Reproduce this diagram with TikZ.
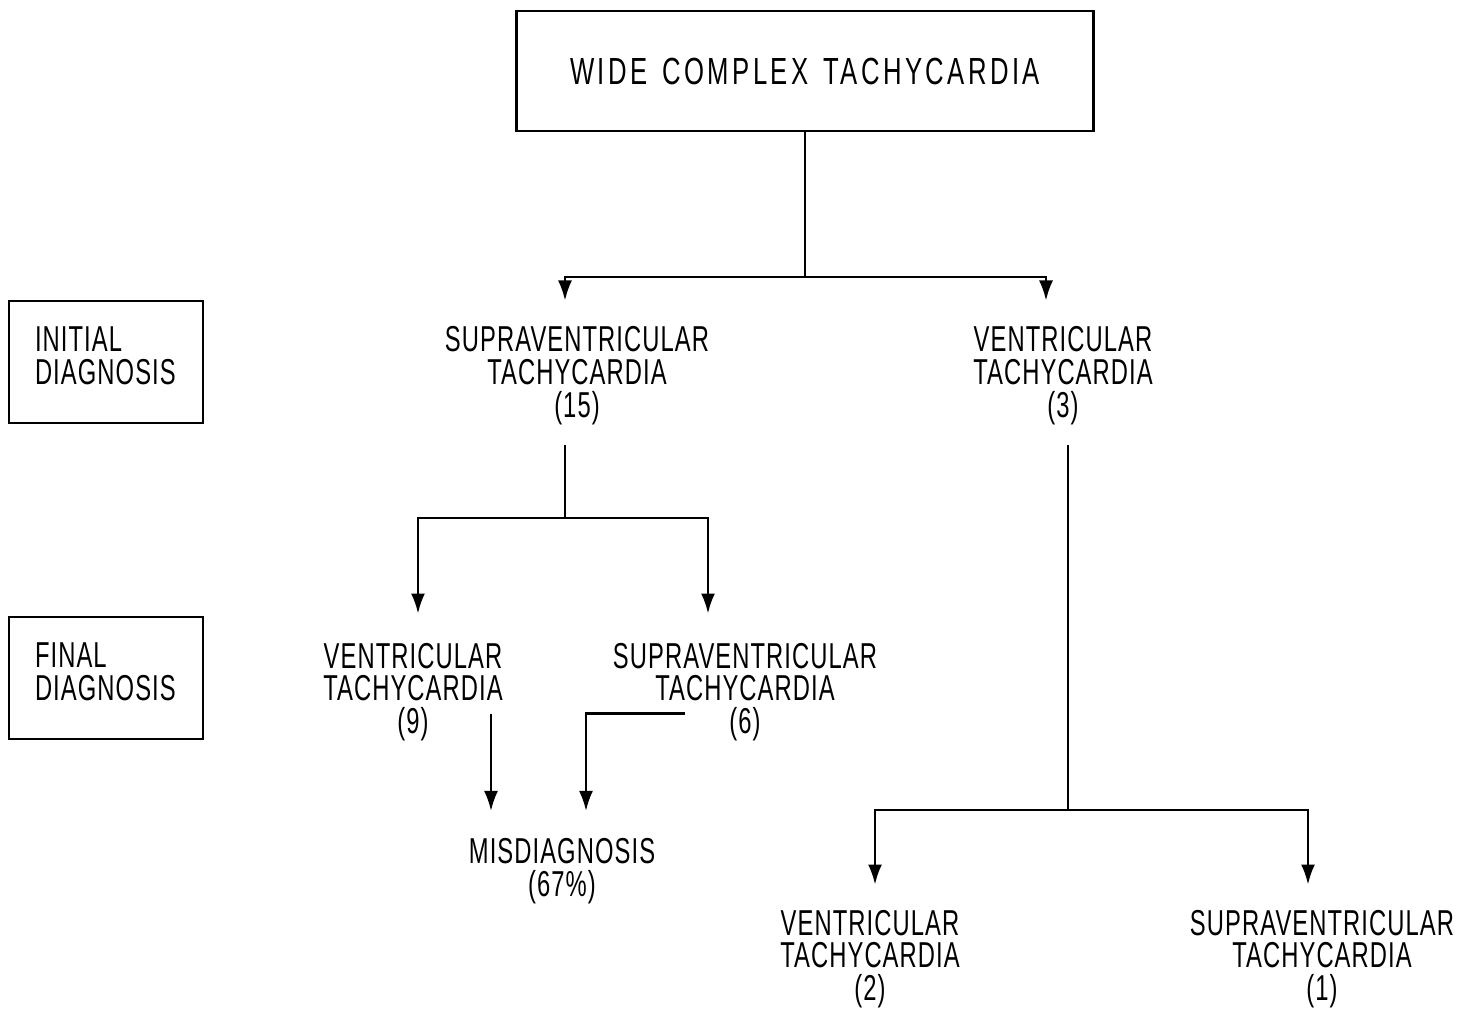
\documentclass[tikz,border=0pt]{standalone}
\usepackage{fontspec}
\setmainfont{Liberation Sans}[FakeStretch=0.66,LetterSpace=3]
\newfontfamily\titlefont{Liberation Sans}[FakeStretch=0.68,LetterSpace=9]
\usetikzlibrary{arrows.meta,calc}
\newcommand\dgfont{\fontsize{20.5}{18.7}\selectfont}
\tikzset{
  line/.style={draw=black, line width=1.3pt},
  arrow/.style={line, -{Latex[length=4mm,width=2.8mm]}},
  titlebox/.style={draw, line width=1.4pt, minimum width=11.54cm,
    minimum height=2.4cm, font=\titlefont\fontsize{21.5}{20}\selectfont},
  stagebox/.style={draw, line width=1.4pt, minimum width=3.88cm,
    minimum height=2.44cm, text width=2.84cm, inner xsep=0.52cm,
    text depth=0.92cm, align=left, font=\dgfont},
  txt/.style={align=center, inner sep=0pt, font=\dgfont}
}

\begin{document}
\begin{tikzpicture}[x=0.02cm,y=-0.02cm]
  \path[use as bounding box] (0,0) rectangle (1469,1010);

  % boxes
  \node[titlebox] (wct) at (805,71)
    {WIDE\hspace{0.4em}COMPLEX\hspace{0.4em}TACHYCARDIA};
  \node[stagebox] (initial) at (106,362) {INITIAL\\DIAGNOSIS};
  \node[stagebox] (final) at (106,678) {FINAL\\DIAGNOSIS};

  % initial diagnosis
  \node[txt] (svtA) at (577,376) {SUPRAVENTRICULAR\\TACHYCARDIA\\(15)};
  \node[txt] (vtA) at (1063,376) {VENTRICULAR\\TACHYCARDIA\\(3)};

  % final diagnosis
  \node[txt] (vtB) at (413,692) {VENTRICULAR\\TACHYCARDIA\\(9)};
  \node[txt] (svtB) at (745,692) {SUPRAVENTRICULAR\\TACHYCARDIA\\(6)};
  \node[txt] (mis) at (562,871) {MISDIAGNOSIS\\(67\%)};
  \node[txt] (vtC) at (870,959) {VENTRICULAR\\TACHYCARDIA\\(2)};
  \node[txt] (svtC) at (1322,959) {SUPRAVENTRICULAR\\TACHYCARDIA\\(1)};

  \coordinate (forkA) at (805,277);
  \coordinate (forkB) at (565,518);
  \coordinate (forkC) at (1068,810);

  \draw[line] (wct.south) -- (forkA);
  \draw[arrow] (forkA) -| ($(svtA.north)+(-12,-26)$);
  \draw[arrow] (forkA) -| ($(vtA.north)+(-17,-26)$);

  \draw[line] ($(svtA.south)+(-12,19)$) -- (forkB);
  \draw[arrow] (forkB) -| ($(vtB.north)+(5,-29)$);
  \draw[arrow] (forkB) -| ($(svtB.north)+(-37,-29)$);

  \draw[arrow] ($(vtB.south)+(78,-28)$) -- ($(mis.north)+(-71,-27)$);
  \draw[arrow] ($(svtB.south)+(-60,-28)$) -| ($(mis.north)+(24,-27)$);

  \draw[line] ($(vtA.south)+(5,19)$) -- (forkC);
  \draw[arrow] (forkC) -| ($(vtC.north)+(5,-25)$);
  \draw[arrow] (forkC) -| ($(svtC.north)+(-14,-25)$);
\end{tikzpicture}
\end{document}
